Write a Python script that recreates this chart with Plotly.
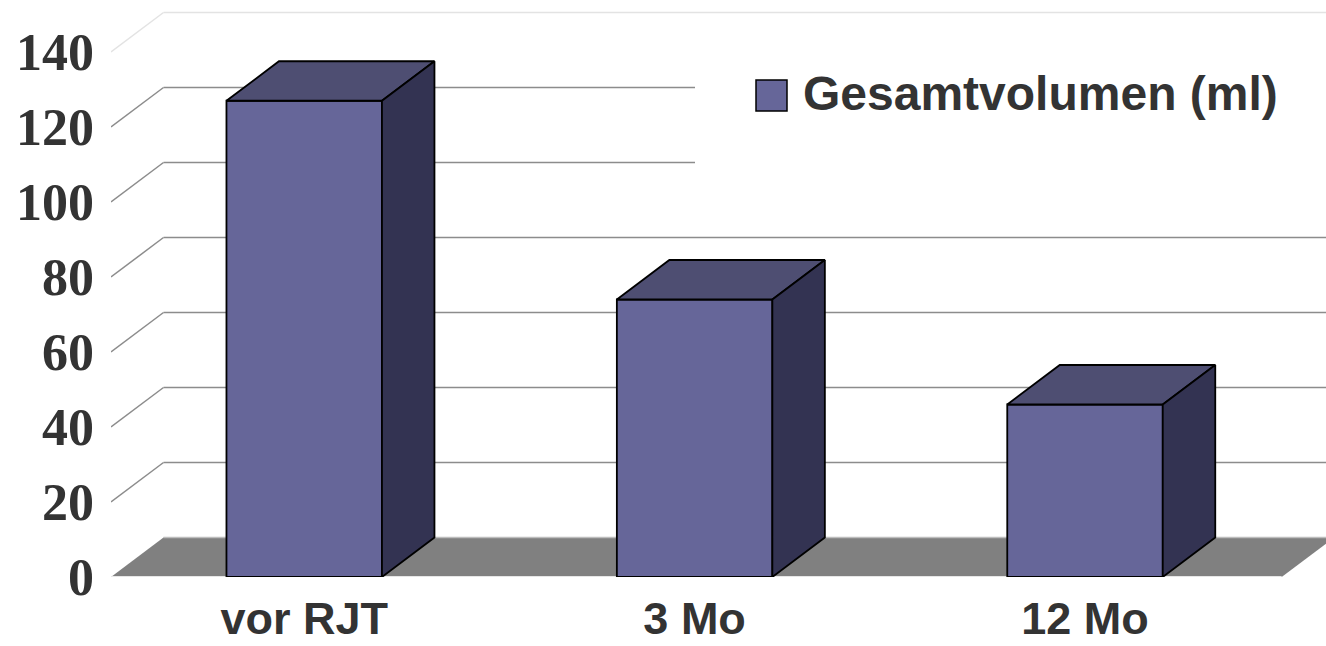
import plotly.graph_objects as go

# Data
categories = ["vor RJT", "3 Mo", "12 Mo"]
volumes = [127, 74, 46]
series_name = "Gesamtvolumen (ml)"
y_ticks = [0, 20, 40, 60, 80, 100, 120, 140]

# Layout / styling constants
W, H = 1326, 646
M_L, M_R, M_T, M_B = 111, 0, 0, 69
PX_PER_X = 390.4          # pixels per category step
PX_PER_Y = 3.75           # pixels per value unit
plot_w = W - M_L - M_R
plot_h = H - M_T - M_B
x_min = -0.4949
x_max = x_min + plot_w / PX_PER_X
y_max = plot_h / PX_PER_Y

DEPTH_DX = 52.5 / PX_PER_X   # 3-D depth offset, in axis units
DEPTH_DY = 39.5 / PX_PER_Y
BAR_W = 155.5 / PX_PER_X
FLOOR_RIGHT = x_min + (1281.7 - M_L) / PX_PER_X

FRONT = "#666699"
TOP = "#4e4e72"
SIDE = "#333352"
EDGE = "#000000"
GRID = "#8c8c8c"
GRID_LIGHT = "#e3e3e3"
FLOOR = "#808080"
TEXT = "#333333"

px2x = lambda px: x_min + (px - M_L) / PX_PER_X
px2y = lambda py: (H - M_B - py) / PX_PER_Y
px2paper_x = lambda px: (px - M_L) / plot_w
px2paper_y = lambda py: (H - M_B - py) / plot_h

fig = go.Figure()

shapes = []

# Floor
shapes.append(dict(
    type="path", layer="below", xref="x", yref="y",
    path=(f"M {x_min},0 L {x_min + DEPTH_DX},{DEPTH_DY} "
          f"L {FLOOR_RIGHT + DEPTH_DX},{DEPTH_DY} L {FLOOR_RIGHT},0 Z"),
    fillcolor=FLOOR, line=dict(width=0),
))
shapes.append(dict(
    type="line", layer="below", xref="x", yref="y",
    x0=x_min, x1=FLOOR_RIGHT, y0=0, y1=0,
    line=dict(color="#e6e6e6", width=2),
))

# Back-wall gridlines with their diagonal connectors to the front axis
for v in y_ticks:
    col = GRID_LIGHT if v == y_ticks[-1] else GRID
    if v == 0:
        col = "#bdbdbd"
    if v != 0:
        shapes.append(dict(
            type="line", layer="below", xref="x", yref="y",
            x0=x_min, y0=v, x1=x_min + DEPTH_DX, y1=v + DEPTH_DY,
            line=dict(color=col, width=1.5),
        ))
    shapes.append(dict(
        type="line", layer="below", xref="x", yref="y",
        x0=x_min + DEPTH_DX, y0=v + DEPTH_DY, x1=x_max + 0.1, y1=v + DEPTH_DY,
        line=dict(color=col, width=1.5),
    ))

# Legend backdrop (covers the wall gridlines behind the legend)
shapes.append(dict(
    type="rect", layer="below", xref="x", yref="y",
    x0=px2x(695), x1=x_max + 0.1, y0=px2y(200), y1=px2y(40),
    fillcolor="white", line=dict(width=0),
))
# Legend swatch
shapes.append(dict(
    type="rect", layer="above", xref="paper", yref="paper",
    x0=px2paper_x(756), x1=px2paper_x(787),
    y0=px2paper_y(111), y1=px2paper_y(80),
    fillcolor=FRONT, line=dict(color=EDGE, width=1.5),
))

# Front faces of the columns
fig.add_trace(go.Bar(
    x=list(range(len(categories))), y=volumes, width=BAR_W,
    marker=dict(color=FRONT, line=dict(color=EDGE, width=1.8)),
    name=series_name, showlegend=False, hoverinfo="skip",
))

# Top and side faces of the columns
for i, v in enumerate(volumes):
    xl, xr = i - BAR_W / 2, i + BAR_W / 2
    fig.add_trace(go.Scatter(
        x=[xl, xl + DEPTH_DX, xr + DEPTH_DX, xr, xl],
        y=[v, v + DEPTH_DY, v + DEPTH_DY, v, v],
        mode="lines", fill="toself", fillcolor=TOP,
        line=dict(color=EDGE, width=1.8), showlegend=False, hoverinfo="skip",
    ))
    fig.add_trace(go.Scatter(
        x=[xr, xr, xr + DEPTH_DX, xr + DEPTH_DX, xr],
        y=[0, v, v + DEPTH_DY, DEPTH_DY, 0],
        mode="lines", fill="toself", fillcolor=SIDE,
        line=dict(color=EDGE, width=1.8), showlegend=False, hoverinfo="skip",
    ))

fig.add_annotation(
    xref="paper", yref="paper", x=px2paper_x(801), y=px2paper_y(94),
    xanchor="left", yanchor="middle", showarrow=False,
    text=series_name,
    font=dict(family="Liberation Sans", size=48, color=TEXT, weight="bold"),
)

fig.update_layout(
    width=W, height=H,
    margin=dict(l=M_L, r=M_R, t=M_T, b=M_B),
    paper_bgcolor="white", plot_bgcolor="white",
    shapes=shapes,
    showlegend=False,
    xaxis=dict(
        range=[x_min, x_max], tickvals=list(range(len(categories))),
        ticktext=categories, showgrid=False, zeroline=False, showline=False,
        ticks="", ticklabelstandoff=11, automargin=False,
        tickfont=dict(family="Liberation Sans", size=45, color=TEXT, weight="bold"),
    ),
    yaxis=dict(
        range=[0, y_max], tickvals=y_ticks, showgrid=False, zeroline=False,
        showline=False, ticks="", ticklabelstandoff=16, automargin=False,
        tickfont=dict(family="Liberation Serif", size=52, color=TEXT, weight="bold"),
    ),
)

fig.write_html("out.html")
